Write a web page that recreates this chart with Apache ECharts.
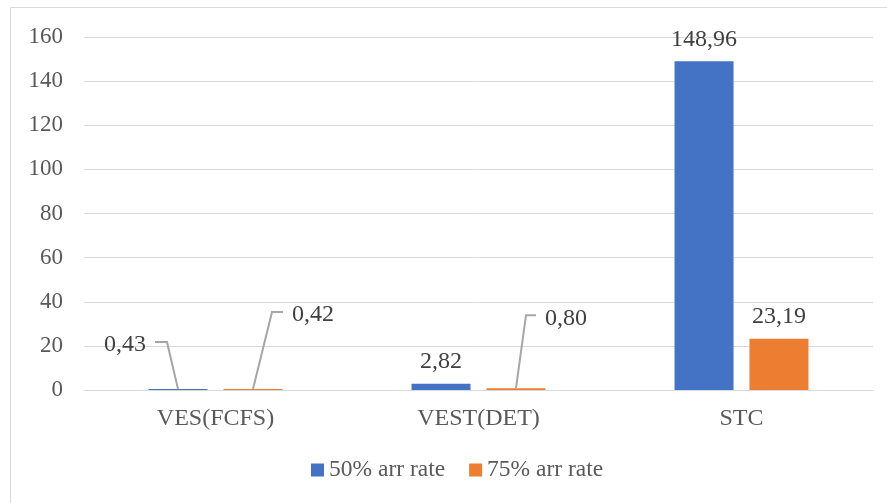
<!DOCTYPE html>
<html>
<head>
<meta charset="utf-8">
<script src="https://cdn.jsdelivr.net/npm/echarts@6/dist/echarts.min.js"></script>
<style>
  html, body { margin: 0; padding: 0; background: #ffffff; }
  #chart { width: 887px; height: 503px; }
</style>
</head>
<body>
<div id="chart"></div>
<script>
// Mean waiting time per scheduling strategy, two arrival rates
const categories = ['VES(FCFS)', 'VEST(DET)', 'STC'];
const seriesNames = ['50% arr rate', '75% arr rate'];
const rate50 = [0.43, 2.82, 148.96];
const rate75 = [0.42, 0.80, 23.19];
const yTicks = [0, 20, 40, 60, 80, 100, 120, 140, 160];

// Near-zero bars whose labels sit aside with a leader line: [series, category]
const calloutBars = [[0, 0], [1, 0], [1, 1]];
// Leader line geometry (pixels): rise end relative to bar top, then horizontal stub
const calloutStyle = {
  '0-0': { ex: -11, ey: -47, hx: -12 },
  '1-0': { ex: 19, ey: -77, hx: 11 },
  '1-1': { ex: 10, ey: -73, hx: 10 }
};

const fmt = v => v.toFixed(2).replace('.', ',');
const serif = '"Liberation Serif", "Times New Roman", serif';
const BAR_W = 59;
const BAR_OFFSET = 37.5;   // half of bar width plus half the gap

const isCallout = (s, c) => calloutBars.some(b => b[0] === s && b[1] === c);

const barData = (values, s) => values.map((v, c) => (
  isCallout(s, c) ? { value: v, label: { show: false } } : v
));

const calloutData = calloutBars.map(b => [b[1], (b[0] === 0 ? rate50 : rate75)[b[1]], b[0]]);

const chart = echarts.init(document.getElementById('chart'));

const barSeries = (name, values, s, color) => ({
  name: name,
  type: 'bar',
  data: barData(values, s),
  barWidth: BAR_W,
  barGap: '27%',
  itemStyle: { color: color },
  label: {
    show: true,
    position: 'top',
    distance: 10,
    fontFamily: serif,
    fontSize: 24,
    color: '#404040',
    formatter: p => fmt(p.value)
  }
});

chart.setOption({
  animation: false,
  backgroundColor: '#ffffff',
  graphic: [{
    type: 'rect',
    shape: { x: 10.5, y: 7.5, width: 900, height: 600 },
    style: { fill: 'none', stroke: '#d9d9d9', lineWidth: 1 },
    silent: true
  }],
  grid: { left: 84, right: 14, top: 37, bottom: 113 },
  legend: {
    data: seriesNames,
    top: 453,
    left: 306,
    itemWidth: 13,
    itemHeight: 13,
    itemGap: 24,
    icon: 'rect',
    textStyle: { fontFamily: serif, fontSize: 23.5, color: '#595959' }
  },
  xAxis: {
    type: 'category',
    data: categories,
    axisLine: { show: true, lineStyle: { color: '#d9d9d9', width: 1 } },
    axisTick: { show: false },
    axisLabel: { margin: 17, fontFamily: serif, fontSize: 24, color: '#595959' }
  },
  yAxis: {
    type: 'value',
    min: yTicks[0],
    max: yTicks[yTicks.length - 1],
    interval: yTicks[1] - yTicks[0],
    axisLine: { show: false },
    axisTick: { show: false },
    splitLine: { lineStyle: { color: '#d9d9d9', width: 1 } },
    axisLabel: { margin: 21, fontFamily: serif, fontSize: 23, color: '#595959' }
  },
  series: [
    barSeries(seriesNames[0], rate50, 0, '#4472C4'),
    barSeries(seriesNames[1], rate75, 1, '#ED7D31'),
    {
      type: 'custom',
      silent: true,
      z: 5,
      data: calloutData,
      renderItem: function (params, api) {
        const cat = api.value(0);
        const val = api.value(1);
        const s = api.value(2);
        const st = calloutStyle[s + '-' + cat];
        const top = api.coord([cat, val]);
        const x0 = top[0] + (s === 0 ? -BAR_OFFSET : BAR_OFFSET);
        const y0 = top[1];
        const x1 = x0 + st.ex, y1 = y0 + st.ey;
        const x2 = x1 + st.hx;
        const toLeft = st.hx < 0;
        return {
          type: 'group',
          children: [{
            type: 'polyline',
            shape: { points: [[x0, y0], [x1, y1], [x2, y1]] },
            style: { stroke: '#a6a6a6', lineWidth: 2, fill: null }
          }, {
            type: 'text',
            style: {
              x: x2 + (toLeft ? -9 : 9),
              y: y1 + 3,
              text: fmt(val),
              align: toLeft ? 'right' : 'left',
              verticalAlign: 'middle',
              fontFamily: serif,
              fontSize: 24,
              fill: '#404040'
            }
          }]
        };
      }
    }
  ]
});
</script>
</body>
</html>
